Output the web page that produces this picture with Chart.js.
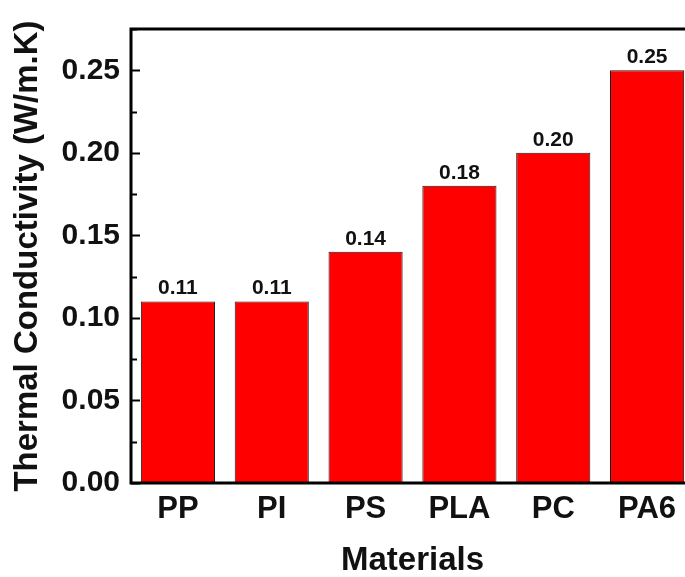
<!DOCTYPE html>
<html>
<head>
<meta charset="utf-8">
<script src="https://cdn.jsdelivr.net/npm/chart.js@4/dist/chart.umd.min.js"></script>
<style>
  html, body { margin: 0; padding: 0; background: #fff; overflow: hidden; }
  #wrap { width: 694px; height: 577px; }
</style>
</head>
<body>
<div id="wrap"><canvas id="chart"></canvas></div>
<script>
/* DATA */
const materials = ["PP", "PI", "PS", "PLA", "PC", "PA6"];
const conductivity = [0.11, 0.11, 0.14, 0.18, 0.20, 0.25];
const valueLabels = ["0.11", "0.11", "0.14", "0.18", "0.20", "0.25"];
const yTicks = [0, 0.05, 0.10, 0.15, 0.20, 0.25];
const yMinor = [0.025, 0.075, 0.125, 0.175, 0.225, 0.275];

const FONT = "'Liberation Sans', Arial, sans-serif";

/* frame + inward ticks + value labels */
const extras = {
  id: "extras",
  afterDatasetsDraw(chart) {
    const ctx = chart.ctx;
    const a = chart.chartArea;
    const y = chart.scales.y;

    ctx.save();
    ctx.strokeStyle = "#000";
    ctx.lineWidth = 2;
    yTicks.forEach(v => {
      const py = Math.round(y.getPixelForValue(v)) + 0.5;
      ctx.beginPath();
      ctx.moveTo(a.left, py);
      ctx.lineTo(a.left + 9, py);
      ctx.stroke();
    });
    yMinor.forEach(v => {
      const py = Math.round(y.getPixelForValue(v)) + 0.5;
      ctx.beginPath();
      ctx.moveTo(a.left, py);
      ctx.lineTo(a.left + 6, py);
      ctx.stroke();
    });

    ctx.lineWidth = 3;
    ctx.strokeRect(a.left, a.top, a.right - a.left, a.bottom - a.top);

    // value labels above bars
    ctx.fillStyle = "#111";
    ctx.font = "bold 21px " + FONT;
    ctx.textAlign = "center";
    ctx.textBaseline = "alphabetic";
    chart.getDatasetMeta(0).data.forEach((bar, i) => {
      ctx.fillText(valueLabels[i], bar.x, bar.y - 7);
    });
    ctx.restore();
  }
};

new Chart(document.getElementById("chart"), {
  type: "bar",
  data: {
    labels: materials,
    datasets: [{
      data: conductivity,
      backgroundColor: "#ff0000",
      borderColor: "#1a1a1a",
      borderWidth: 1,
      barPercentage: 0.79,
      categoryPercentage: 1
    }]
  },
  options: {
    responsive: true,
    maintainAspectRatio: false,
    animation: false,
    layout: { padding: { top: 26, right: 0, left: 0, bottom: 0 } },
    plugins: {
      legend: { display: false },
      tooltip: { enabled: false }
    },
    scales: {
      x: {
        grid: { display: false, drawTicks: false },
        border: { display: false },
        ticks: {
          color: "#111",
          padding: 8,
          font: { family: FONT, size: 31, weight: "bold" }
        },
        title: {
          display: true,
          text: "Materials",
          color: "#111",
          padding: 0,
          font: { family: FONT, size: 33, weight: "bold", lineHeight: 1 }
        },
        afterFit(s) { s.height = 94; }
      },
      y: {
        min: 0,
        max: 0.275,
        grid: { display: false, drawTicks: false },
        border: { display: false },
        afterBuildTicks(s) { s.ticks = yTicks.map(v => ({ value: v })); },
        ticks: {
          color: "#111",
          padding: 11,
          font: { family: FONT, size: 30, weight: "bold" },
          callback: v => v.toFixed(2)
        },
        title: {
          display: true,
          text: "Thermal Conductivity (W/m.K)",
          color: "#111",
          padding: { top: 8, bottom: 0 },
          font: { family: FONT, size: 33, weight: "bold" }
        },
        afterFit(s) { s.width = 131; }
      }
    }
  },
  plugins: [extras]
});
</script>
</body>
</html>
